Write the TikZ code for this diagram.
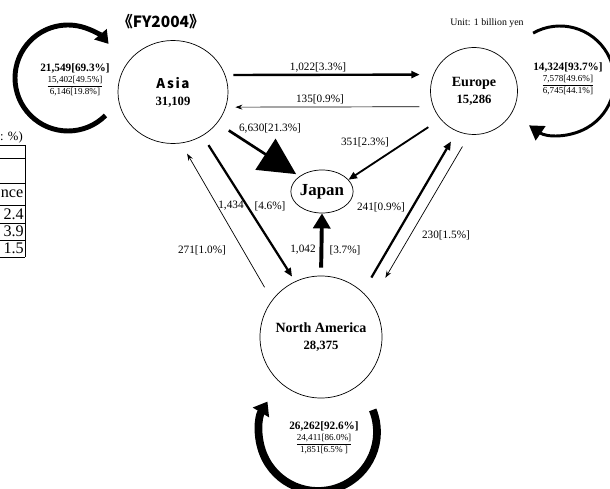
\documentclass[tikz,border=0pt]{standalone}
\usepackage{fontspec}
\setmainfont{Liberation Serif}
\newfontfamily\gothic{Noto Sans CJK JP}[LetterSpace=12]
\newfontfamily\gothicplain{Noto Sans CJK JP}
\usetikzlibrary{arrows.meta,shapes.geometric}

\begin{document}
\begin{tikzpicture}[x=0.025cm, y=0.025cm,
    region/.style={circle, draw, line width=0.5pt, inner sep=0pt, align=center, font=\fontsize{10}{12}\selectfont\bfseries},
    flow/.style={-{Stealth[length=5pt,width=3.5pt]}, line width=0.5pt},
    flowbold/.style={-{Triangle[length=6pt,width=5pt]}, line width=1.6pt},
    val/.style={font=\fontsize{8}{9}\selectfont},
    share/.style={align=center, font=\fontsize{6.5}{7.5}\selectfont},
    cell/.style={anchor=east, inner sep=0pt, font=\fontsize{11.5}{12}\selectfont}
]
\useasboundingbox (0,0) rectangle (610,488);

% Titles
\node[font=\gothicplain\bfseries\fontsize{11}{12}\selectfont] (title) at (161,466) {《FY2004》};
\node[font=\fontsize{7}{8}\selectfont] (unit) at (487,465) {Unit: 1 billion yen};

% Regions
\node[region, ellipse, minimum width=2.75cm, minimum height=2.575cm] (asia) at (173,396)
    {{\gothic\fontsize{9.5}{12}\selectfont Asia}\\{\fontsize{9}{12}\selectfont 31,109}};
\node[region, minimum size=2.175cm] (europe) at (474,397) {Europe\\{\fontsize{9}{12}\selectfont 15,286}};
\node[region, minimum size=3.05cm] (na) at (321,151) {North America\\{\fontsize{9}{12}\selectfont 28,375}};
\node[region, ellipse, minimum width=1.45cm, minimum height=1.075cm, font=\fontsize{12}{14}\selectfont\bfseries] (japan) at (322,296.5) {Japan};

% Trade within each region
\draw[line width=3.5pt, -{Triangle[length=9pt,width=11pt]}]
    (asia.center) ++(-105,14) ++(-45:53) arc[start angle=-45, end angle=-320, radius=53];
\node[share] (asiain) at (75,408)
    {{\fontsize{8}{7.5}\selectfont\bfseries 21,549[69.3\%]}\\\underline{15,402[49.5\%]}\\6,146[19.8\%]};

\draw[line width=2.1pt, -{Triangle[length=10pt,width=12pt]}]
    (europe.center) ++(86,10.5) ++(119.6:54.5) arc[start angle=119.6, end angle=-124.6, radius=54.5];
\node[share] (europein) at (568,409)
    {{\fontsize{8}{7.5}\selectfont\bfseries 14,324[93.7\%]}\\\underline{7,578[49.6\%]}\\6,745[44.1\%]};

\draw[line width=5.5pt, -{Triangle[length=9pt,width=13pt]}]
    (na.center) ++(-3,-95) ++(22:59) arc[start angle=22, end angle=-211, radius=59];
\node[share] (nain) at (324,50)
    {{\fontsize{8}{7.5}\selectfont\bfseries 26,262[92.6\%]}\\\underline{24,411[86.0\%]}\\1,851[6.5\% ]};

% Flows between regions
\draw[flowbold, line width=1.7pt, shorten <=5.7pt, shorten >=9.7pt] (asia.18) -- (europe.158);
\node[val] (ae) at (318,421) {1,022[3.3\%]};
\draw[flow, shorten <=9.7pt, shorten >=6.7pt] (europe.201.6) -- (asia.-16);
\node[val] (ea) at (320,389) {135[0.9\%]};

\draw[-{Triangle[length=26pt,width=26pt]}, line width=1.9pt, shorten <=9.7pt, shorten >=2.8pt] (asia.-35) -- (japan.146.6);
\node[val] (aj) at (270,360) {6,630[21.3\%]};
\draw[flowbold, line width=1.3pt, shorten <=10.3pt] (europe.220.8) -- (japan.24.7);
\node[val] (ej) at (365,346) {351[2.3\%]};

\draw[flowbold, shorten <=7.8pt, shorten >=4pt] (asia.-56.6) -- (na.115.8);
\node[val] (an1) at (231,282) {1,434};
\node[val] (an2) at (270,282) {[4.6\%]};
\draw[flow, shorten <=10.5pt, shorten >=8.5pt] (na.143.6) -- (asia.-81.9);
\node[val] (na1) at (202,238) {271[1.0\%]};

\draw[-{Triangle[length=10.7pt,width=12pt]}, line width=2.8pt, shorten <=5.7pt] (na.north) -- (japan.south);
\node[val] (nj1) at (303,238) {1,042};
\node[val] (nj2) at (345,238) {[3.7\%]};

\draw[flowbold, shorten <=12pt, shorten >=8.3pt] (na.47.1) -- (europe.247.6);
\node[val] (ne) at (381,281) {241[0.9\%]};
\draw[flow, shorten <=9.8pt, shorten >=19.8pt] (europe.264) -- (na.35.8);
\node[val] (en) at (446,253) {230[1.5\%]};

% Table at the left edge
\draw[line width=0.7pt] (0,343) -- (25,343) (0,330) -- (25,330) (0,305) -- (25,305)
    (0,283) -- (25,283) (0,265) -- (25,265) (0,248) -- (25,248) (0,231) -- (25,231)
    (25,343) -- (25,231);
\node[cell, font=\fontsize{9}{10}\selectfont] (tunit) at (23,351) {: \%)};
\node[cell] (thead) at (23.5,294) {nce};
\node[cell] (trow1) at (24,274) {2.4};
\node[cell] (trow2) at (24,256.5) {3.9};
\node[cell] (trow3) at (24,239.5) {1.5};

\end{tikzpicture}
\end{document}
